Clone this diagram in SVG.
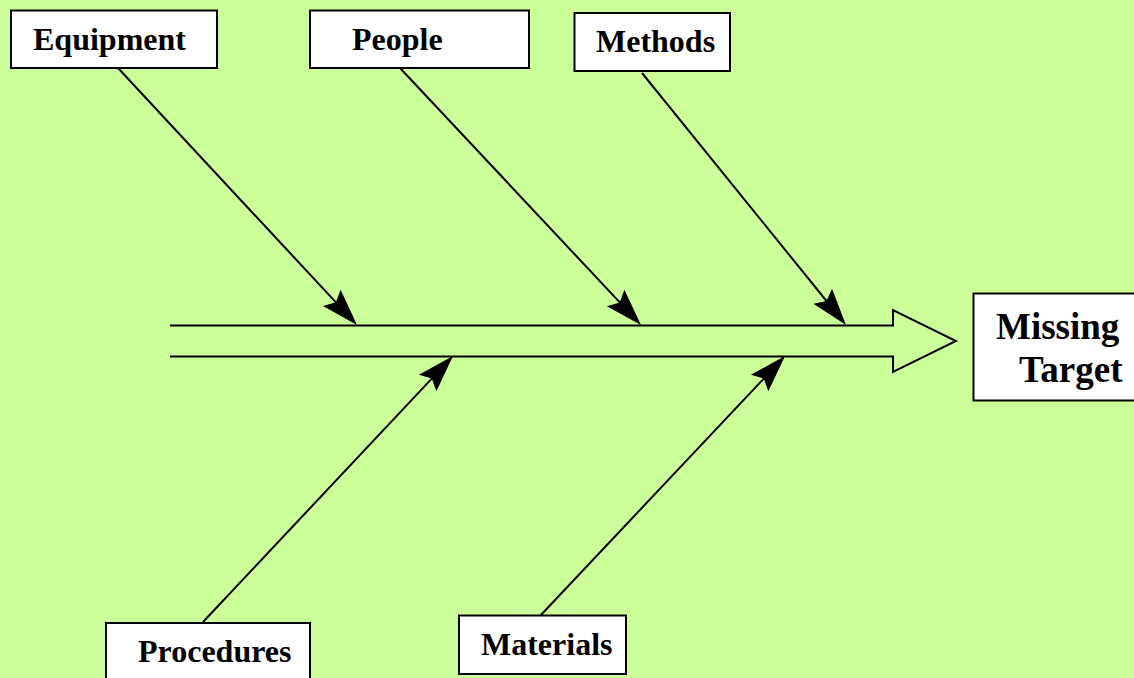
<svg xmlns="http://www.w3.org/2000/svg" width="1134" height="678" viewBox="0 0 1134 678">
  <style>
    .box { fill: #ffffff; stroke: #000000; stroke-width: 2; }
    .lbl { font-family: "Liberation Serif", "Times New Roman", serif; font-weight: bold; font-size: 32px; fill: #000000; }
    .big { font-size: 37px; }
    .bone { fill: none; stroke: #000000; stroke-width: 2; marker-end: url(#head); }
    .spine { fill: none; stroke: #000000; stroke-width: 2; stroke-linejoin: miter; }
  </style>
  <defs>
    <marker id="head" markerUnits="userSpaceOnUse" orient="auto" refX="0" refY="0" markerWidth="60" markerHeight="60" viewBox="-30 -30 60 60" overflow="visible">
      <path d="M20,0 L-17,-12 L-11,0 L-17,12 Z" fill="#000000"/>
    </marker>
  </defs>

  <rect width="1134" height="678" fill="#ccff99"/>

  <!-- connectors: spine arrow and cause bones -->
  <g id="connectors">
    <path class="spine" d="M170,325.5 H893 V310 L956,341 L893,372 V356.5 H170"/>
    <path class="bone" d="M118,68 L343.4,310.4"/>
    <path class="bone" d="M400,68 L627.3,310.4"/>
    <path class="bone" d="M642,73 L833.4,309.5"/>
    <path class="bone" d="M203,622 L439.3,370.6"/>
    <path class="bone" d="M540,616 L771.3,370.6"/>
  </g>

  <g id="equipment">
    <rect class="box" x="11" y="10.5" width="206" height="57.5"/>
    <text class="lbl" x="33" y="50">Equipment</text>
  </g>
  <g id="people">
    <rect class="box" x="310" y="10.5" width="219" height="57.5"/>
    <text class="lbl" x="352" y="50">People</text>
  </g>
  <g id="methods">
    <rect class="box" x="574.5" y="13" width="155.5" height="58"/>
    <text class="lbl" x="596" y="52">Methods</text>
  </g>
  <g id="missing-target">
    <rect class="box" x="973.5" y="293.5" width="180" height="107"/>
    <text class="lbl big" x="996" y="339">Missing</text>
    <text class="lbl big" x="1019" y="382">Target</text>
  </g>
  <g id="procedures">
    <rect class="box" x="106" y="623" width="204" height="70"/>
    <text class="lbl" x="138" y="662">Procedures</text>
  </g>
  <g id="materials">
    <rect class="box" x="459" y="615.5" width="167" height="58.5"/>
    <text class="lbl" x="481" y="655">Materials</text>
  </g>
</svg>
